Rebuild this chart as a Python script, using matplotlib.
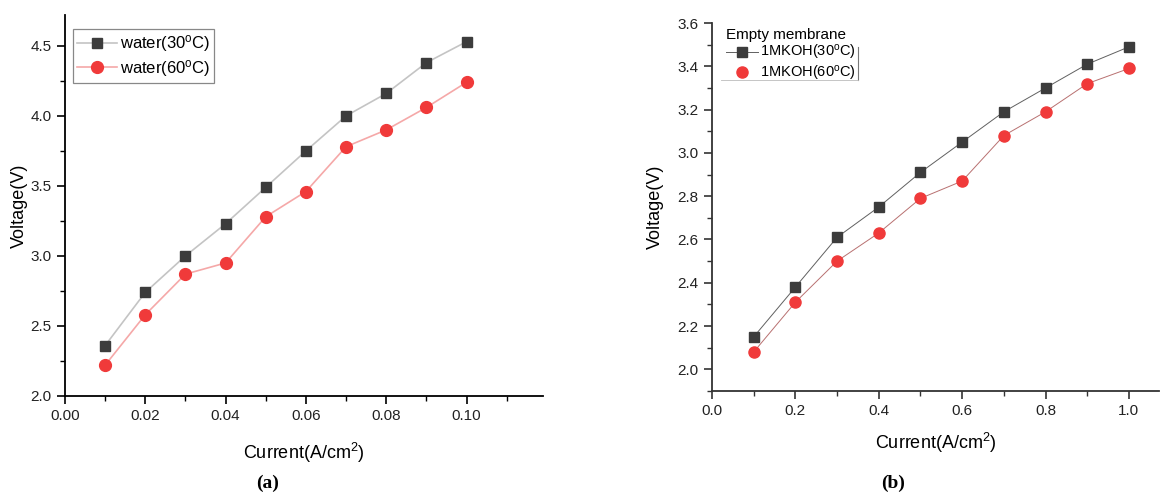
"""Voltage vs current density curves for two membranes, panels (a) and (b)."""
import matplotlib
matplotlib.use("Agg")
import matplotlib.pyplot as plt
from matplotlib.ticker import MultipleLocator
from matplotlib.lines import Line2D

plt.rcParams['font.family'] = ['Liberation Sans', 'DejaVu Sans']
plt.rcParams['mathtext.default'] = 'regular'

# panel (a): water
current_a = [0.01, 0.02, 0.03, 0.04, 0.05, 0.06, 0.07, 0.08, 0.09, 0.10]
water_30 = [2.36, 2.74, 3.00, 3.23, 3.49, 3.75, 4.00, 4.16, 4.38, 4.53]
water_60 = [2.22, 2.58, 2.87, 2.95, 3.28, 3.46, 3.78, 3.90, 4.06, 4.24]

# panel (b): empty membrane, 1M KOH
current_b = [0.1, 0.2, 0.3, 0.4, 0.5, 0.6, 0.7, 0.8, 0.9, 1.0]
koh_30 = [2.15, 2.38, 2.61, 2.75, 2.91, 3.05, 3.19, 3.30, 3.41, 3.49]
koh_60 = [2.08, 2.31, 2.50, 2.63, 2.79, 2.87, 3.08, 3.19, 3.32, 3.39]

GRAY = '#3c3c3c'
RED = '#f03a3a'


def style_axes(ax, color='black'):
    ax.spines['top'].set_visible(False)
    ax.spines['right'].set_visible(False)
    for s in ('left', 'bottom'):
        ax.spines[s].set_linewidth(1.3)
        ax.spines[s].set_color(color)
    ax.tick_params(which='major', direction='out', length=6, width=1.2,
                   labelsize=11, colors=color, labelcolor='#222222')
    ax.tick_params(which='minor', direction='out', length=3.5, width=1.0,
                   colors=color)


fig = plt.figure(figsize=(11.6, 5.01), dpi=100)

# ---- panel (a)
ax1 = fig.add_axes([0.056, 0.2096, 0.412, 0.7604])
ax1.plot(current_a, water_30, color='#c4c4c4', lw=1.2, marker='s', ms=7.5,
         mfc=GRAY, mec=GRAY, label='water(30$^{o}$C)')
ax1.plot(current_a, water_60, color='#f5a8a8', lw=1.2, marker='o', ms=8.5,
         mfc=RED, mec=RED, label='water(60$^{o}$C)')
ax1.set_xlim(0, 0.119)
ax1.set_ylim(2.0, 4.72)
ax1.xaxis.set_major_locator(MultipleLocator(0.02))
ax1.xaxis.set_minor_locator(MultipleLocator(0.01))
ax1.yaxis.set_major_locator(MultipleLocator(0.5))
ax1.yaxis.set_minor_locator(MultipleLocator(0.25))
ax1.xaxis.set_major_formatter(lambda v, p: f'{v:.2f}')
ax1.yaxis.set_major_formatter(lambda v, p: f'{v:.1f}')
style_axes(ax1)
ax1.set_xlabel('Current(A/cm$^2$)', fontsize=13, labelpad=13)
ax1.set_ylabel('Voltage(V)', fontsize=13, labelpad=2)
leg1 = ax1.legend(loc='upper left', bbox_to_anchor=(0.017, 0.963),
                  borderaxespad=0, fontsize=12, handlelength=2.4,
                  handletextpad=0.15, labelspacing=0.2, borderpad=0.25,
                  fancybox=False, edgecolor='#888888', framealpha=1)
leg1.get_frame().set_linewidth(0.9)

# ---- panel (b)
ax2 = fig.add_axes([0.6138, 0.2196, 0.3853, 0.7344])
ax2.plot(current_b, koh_30, color='#606060', lw=0.7, marker='s', ms=7,
         mfc=GRAY, mec=GRAY)
ax2.plot(current_b, koh_60, color='#b87070', lw=0.7,
         marker='o', ms=8, mfc=RED, mec=RED)
ax2.set_xlim(0, 1.072)
ax2.set_ylim(1.9, 3.6)
ax2.xaxis.set_major_locator(MultipleLocator(0.2))
ax2.xaxis.set_minor_locator(MultipleLocator(0.1))
ax2.yaxis.set_major_locator(MultipleLocator(0.2))
ax2.yaxis.set_minor_locator(MultipleLocator(0.1))
ax2.xaxis.set_major_formatter(lambda v, p: f'{v:.1f}')
ax2.yaxis.set_major_formatter(lambda v, p: f'{v:.1f}')
style_axes(ax2, color='#333333')
ax2.set_xlabel('Current(A/cm$^2$)', fontsize=13, labelpad=9)
ax2.set_ylabel('Voltage(V)', fontsize=13, labelpad=10)
handles = [
    Line2D([0], [0], color='#606060', lw=0.7, marker='s', ms=7, mfc=GRAY, mec=GRAY),
    Line2D([0], [0], color='none', marker='o', ms=8, mfc=RED, mec=RED),
]
leg2 = ax2.legend(handles, ['1MKOH(30$^{o}$C)', '1MKOH(60$^{o}$C)'],
                  title='Empty membrane', loc='upper left',
                  bbox_to_anchor=(0.025, 0.995), borderaxespad=0, fontsize=10.5,
                  title_fontsize=11, alignment='left', frameon=False,
                  handlelength=2.2, handletextpad=0.1, labelspacing=0.1,
                  borderpad=0.2)
# remnants of the legend box (right and bottom edges)
ax2.add_line(Line2D([0.327, 0.327], [0.845, 0.935], transform=ax2.transAxes,
                    color='#777777', lw=0.8))
ax2.add_line(Line2D([0.02, 0.327], [0.845, 0.845], transform=ax2.transAxes,
                    color='#bbbbbb', lw=0.6))

# captions
fig.text(0.231, 0.036, '(a)', fontsize=14, fontweight='bold',
         family='Liberation Serif', ha='center', va='center')
fig.text(0.770, 0.036, '(b)', fontsize=14, fontweight='bold',
         family='Liberation Serif', ha='center', va='center')

fig.savefig('out.png', dpi=100)
